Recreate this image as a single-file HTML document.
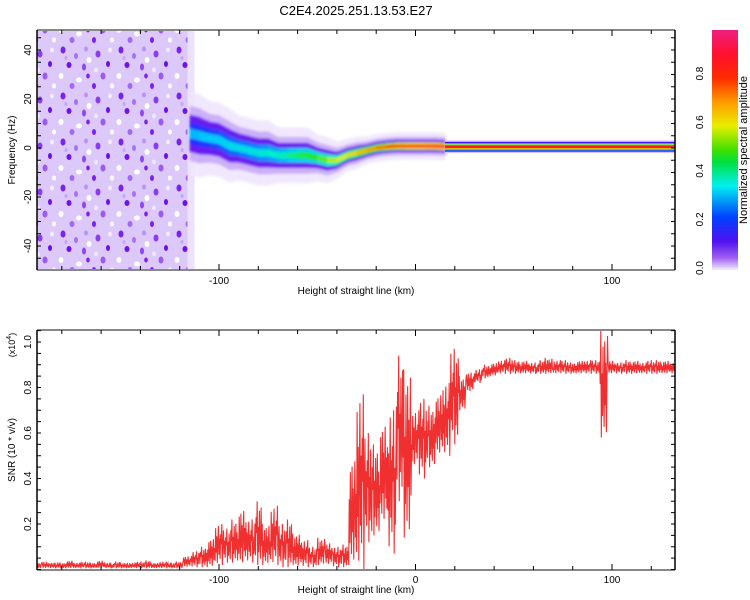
<!DOCTYPE html>
<html><head><meta charset="utf-8"><style>
body{margin:0;background:#fff;}
svg{display:block;font-family:"Liberation Sans",sans-serif;}
</style></head><body>
<svg id="c" width="750" height="600">
<defs>
<pattern id="noise" width="58" height="46" patternUnits="userSpaceOnUse">
<rect width="58" height="46" fill="#dcc8f9"/>
<ellipse cx="5" cy="4" rx="2.5" ry="3.5" fill="#7a22f0"/>
<ellipse cx="18" cy="10" rx="2" ry="3" fill="#a572f4"/>
<ellipse cx="28" cy="3" rx="2" ry="2.5" fill="#b794f6"/>
<ellipse cx="11" cy="19" rx="2.5" ry="3" fill="#6f12ee"/>
<ellipse cx="26" cy="21" rx="2" ry="3.5" fill="#8c48f2"/>
<ellipse cx="3" cy="30" rx="2.5" ry="3" fill="#fff"/>
<ellipse cx="21" cy="34" rx="3" ry="2.5" fill="#fff"/>
<ellipse cx="31" cy="14" rx="2.5" ry="3" fill="#fff"/>
<ellipse cx="8" cy="12" rx="1.5" ry="2" fill="#c4a6f8"/>
<ellipse cx="40" cy="8" rx="2.5" ry="3.5" fill="#8a3cf2"/>
<ellipse cx="50" cy="18" rx="2" ry="3" fill="#6a10ec"/>
<ellipse cx="45" cy="30" rx="2.5" ry="3.5" fill="#9a5af3"/>
<ellipse cx="36" cy="40" rx="2" ry="3" fill="#7a22f0"/>
<ellipse cx="14" cy="40" rx="2.5" ry="3" fill="#a06af4"/>
<ellipse cx="54" cy="40" rx="2" ry="2.5" fill="#fff"/>
<ellipse cx="38" cy="24" rx="2" ry="2.5" fill="#efe6fd"/>
<ellipse cx="52" cy="4" rx="2" ry="2.5" fill="#f3ecfd"/>
<ellipse cx="30" cy="30" rx="1.8" ry="2.5" fill="#7c1ff0"/>
</pattern>
<linearGradient id="cbar" x1="0" y1="0" x2="0" y2="1">
<stop offset="0" stop-color="#ee1f80"/>
<stop offset="0.1" stop-color="#ff1030"/>
<stop offset="0.2" stop-color="#ff2a00"/>
<stop offset="0.3" stop-color="#ff9a00"/>
<stop offset="0.4" stop-color="#e8ef00"/>
<stop offset="0.5" stop-color="#40e000"/>
<stop offset="0.55" stop-color="#00e040"/>
<stop offset="0.65" stop-color="#00f0f0"/>
<stop offset="0.78" stop-color="#0040ff"/>
<stop offset="0.88" stop-color="#5010f0"/>
<stop offset="0.95" stop-color="#a060f0"/>
<stop offset="1" stop-color="#f4eefc"/>
</linearGradient>
<filter id="blur1"><feGaussianBlur stdDeviation="1.2"/></filter>
</defs>
<text x="356" y="15" text-anchor="middle" font-size="13">C2E4.2025.251.13.53.E27</text>
<g id="topPanel"></g>
<g id="botPanel"></g>
<g>
<rect x="712" y="30" width="26" height="240" fill="url(#cbar)"/>
<g font-size="10" id="cbticks"></g>
<text transform="translate(747,150) rotate(-90)" text-anchor="middle" font-size="11">Normalized spectral amplitude</text>
</g>
</svg>
<script>
// ---- data ----
const ridgeKm = [-115,-110,-105,-100,-95,-90,-85,-80,-75,-70,-65,-60,-55,-50,-45,-40,-35,-30,-25,-20,-15,-10,-5,0,5,10,15];
const ridgeHz = [6,5,4,3.3,1,0,-1,-2,-2,-3,-3,-3,-3,-4,-5,-5,-3,-2,-1,0,0.5,0.8,0.8,0.8,0.8,0.8,0.6];
const ridgeWidth = [9,9,8,8,8,7,7,7,7,6,6,6,6,5,5,4,3.5,3.5,3,3,3,3,3,3,3,3,3];
const ridgeAmp = [0.28,0.3,0.3,0.32,0.33,0.35,0.35,0.37,0.38,0.4,0.42,0.45,0.48,0.5,0.55,0.6,0.62,0.65,0.7,0.72,0.78,0.82,0.85,0.85,0.88,0.88,0.9];
const lineHz = 0.5, lineStartKm = 15;
const noiseKmRange = [-192,-116];
const snrStartKm = -192, snrStepKm = 4;
const snrLo = [0.005,0.005,0.005,0.005,0.005,0.005,0.005,0.005,0.005,0.005,0.005,0.005,0.005,0.005,0.005,0.005,0.005,0.005,0.005,
 0.01,0.01,0.01,0.01,
 0.02,0.03,0.03,0.02,0.03,0.02,0.02,0.02,0.01,0.01,0.01,0.01,0.01,0.02,0.02,0.01,0.01,
 0.02,0.0,0.12,0.15,0.2,0.07,0.3,0.14,0.45,0.4,0.45,0.5,0.5,0.55,0.7,0.78,0.82,0.84,0.85,
 0.86,0.86,0.86,0.86,0.86,0.86,0.86,0.86,0.86,0.86,0.86,0.86,0.86,0.58,0.86,0.86,0.86,0.86,0.86,0.86,0.86,0.86,0.86];
const snrHi = [0.03,0.035,0.03,0.03,0.04,0.03,0.035,0.03,0.04,0.03,0.035,0.03,0.03,0.035,0.04,0.03,0.035,0.03,0.035,
 0.06,0.08,0.1,0.14,
 0.2,0.18,0.22,0.27,0.22,0.3,0.2,0.28,0.2,0.22,0.16,0.13,0.1,0.14,0.12,0.1,0.11,
 0.5,0.77,0.6,0.55,0.65,0.7,0.94,0.88,0.7,0.75,0.72,0.78,0.82,0.97,0.85,0.87,0.88,0.9,0.91,
 0.92,0.93,0.92,0.92,0.91,0.92,0.93,0.92,0.92,0.91,0.92,0.92,0.92,1.05,0.92,0.91,0.92,0.92,0.91,0.92,0.92,0.92,0.91];
const xTicksTop = [-100,100];
const xTicksBot = [-100,0,100];
const yTicksTop = [40,20,0,-20,-40];
const yTicksBot = [0.2,0.4,0.6,0.8,1.0];
const cbTicks = [0.0,0.2,0.4,0.6,0.8];

// ---- scales ----
const L=37,R=675;
const xs=km=>219+(km+100)*1.965;
const yT=hz=>148-hz*2.45;
const yB=v=>569.5-v*227.5;
const NS="http://www.w3.org/2000/svg";
function mk(tag,attrs,parent){const e=document.createElementNS(NS,tag);for(const k in attrs)e.setAttribute(k,attrs[k]);parent.appendChild(e);return e;}
function ampColor(a){
 const stops=[[0,[240,230,252]],[0.1,[150,80,240]],[0.2,[40,40,255]],[0.3,[0,200,255]],[0.4,[0,240,200]],[0.5,[40,230,0]],[0.6,[230,240,0]],[0.7,[255,160,0]],[0.8,[255,40,0]],[0.9,[255,0,50]],[1,[238,30,128]]];
 for(let i=1;i<stops.length;i++){if(a<=stops[i][0]){const t=(a-stops[i-1][0])/(stops[i][0]-stops[i-1][0]);const c=stops[i-1][1].map((v,j)=>Math.round(v+(stops[i][1][j]-v)*t));return `rgb(${c})`;}}
 return 'rgb(238,30,128)';
}
const topG=document.getElementById('topPanel'), botG=document.getElementById('botPanel');
const defs=document.querySelector('defs');
const clip=mk('clipPath',{id:'ct'},defs);
mk('rect',{x:L,y:30,width:R-L,height:240},clip);
const clip2=mk('clipPath',{id:'cb'},defs);
mk('rect',{x:L,y:330,width:R-L,height:240},clip2);

// ---- spectrogram ----
const sg=mk('g',{'clip-path':'url(#ct)'},topG);
const nzBack=mk('rect',{x:xs(noiseKmRange[0])-5,y:30,width:xs(noiseKmRange[1])-xs(noiseKmRange[0])+12,height:240,fill:'#ece2fc'},sg);


const nz=mk('rect',{x:xs(noiseKmRange[0])-5,y:30,width:xs(noiseKmRange[1])-xs(noiseKmRange[0])+5,height:240,fill:'url(#noise)'},sg);


const rg=mk('g',{filter:'url(#blur1)'},sg);
function band(frac,colorFn,op){
 for(let i=0;i<ridgeKm.length-1;i++){
  const a=(ridgeAmp[i]+ridgeAmp[i+1])/2;
  const p=[[xs(ridgeKm[i]),yT(ridgeHz[i]+ridgeWidth[i]*frac)],[xs(ridgeKm[i+1])+0.6,yT(ridgeHz[i+1]+ridgeWidth[i+1]*frac)],[xs(ridgeKm[i+1])+0.6,yT(ridgeHz[i+1]-ridgeWidth[i+1]*frac)],[xs(ridgeKm[i]),yT(ridgeHz[i]-ridgeWidth[i]*frac)]];
  const pg=mk('polygon',{points:p.map(q=>q.join(',')).join(' '),fill:colorFn(a),opacity:op},rg);
  
  
 }
}
band(1.9,()=>'#efe6fd',0.9);
band(1.25,()=>'#c9aaf7',0.9);
band(0.85,()=>'#6a1cf0',1);
band(0.5,a=>ampColor(a*0.7),1);
band(0.22,a=>ampColor(a),1);
const stripes=[[2.6,'#d8c4f8'],[2.0,'#4010f0'],[1.5,'#00c8ff'],[1.0,'#c8f000'],[0.6,'#ff1a20']];
stripes.forEach(([w,c])=>{
 const r=mk('rect',{x:xs(lineStartKm),y:yT(lineHz+w),width:R-xs(lineStartKm),height:yT(lineHz-w)-yT(lineHz+w),fill:c},sg);
 
 
});

// ---- axes helper ----
function axes(g,y0,y1,xt,yt,yf,minorStep,yMin,yMax,xlabY){
 mk('line',{x1:L,y1:y0,x2:R,y2:y0,stroke:'#888','stroke-width':2},g);
 mk('line',{x1:L,y1:y1,x2:R,y2:y1,stroke:'#888','stroke-width':2},g);
 mk('line',{x1:L,y1:y0,x2:L,y2:y1,stroke:'#000','stroke-width':1.5},g);
 mk('line',{x1:R,y1:y0,x2:R,y2:y1,stroke:'#000','stroke-width':1.5},g);
 for(let k=-180;k<=120;k+=20){const x=xs(k);const len=(k%100===0)?6:4;
  mk('line',{x1:x,y1:y1,x2:x,y2:y1-len,stroke:'#000'},g);mk('line',{x1:x,y1:y0,x2:x,y2:y0+len,stroke:'#000'},g);}
 for(let v=yMin;v<=yMax+1e-9;v+=minorStep){const y=yf(v);if(y<y0||y>y1)continue;
  mk('line',{x1:L,y1:y,x2:L+4,y2:y,stroke:'#000'},g);mk('line',{x1:R,y1:y,x2:R-4,y2:y,stroke:'#000'},g);}
 xt.forEach(k=>{const t=mk('text',{x:xs(k),y:xlabY,'text-anchor':'middle','font-size':10},g);t.textContent=k;
  
  });
 yt.forEach(v=>{const t=mk('text',{transform:`translate(31,${yf(v)}) rotate(-90)`,'text-anchor':'middle','font-size':10},g);t.textContent=(v%1!==0||v===1)?v.toFixed(1):v;
  
  });
 const xl=mk('text',{x:356,y:xlabY+10,'text-anchor':'middle','font-size':10},g);xl.textContent='Height of straight line (km)';
 
 
}
axes(topG,30,270,xTicksTop,yTicksTop,yT,5,-50,50,284);
const yl=mk('text',{transform:'translate(15,150) rotate(-90)','text-anchor':'middle','font-size':10},topG);yl.textContent='Frequency (Hz)';



// ---- SNR ----
const lg=mk('g',{'clip-path':'url(#cb)'},botG);
const jitter=[0.5,1,0,0.6,0.2,0.85,0.4,0.1,0.9,0.3,0.7,0.05,0.55,0.95,0.25,0.65,0.15,0.75];
let pts=[];
for(let i=0;i<snrLo.length;i++){
 const k=snrStartKm+i*snrStepKm, lo=snrLo[i], hi=snrHi[i];
 const n=14;
 for(let j=0;j<n;j++){
  const f=jitter[(i*5+j)%jitter.length];
  pts.push(`${xs(k-2+j*snrStepKm/n).toFixed(2)},${yB(lo+(hi-lo)*f).toFixed(2)}`);
 }
}
const pl=mk('polyline',{points:pts.join(' '),fill:'none',stroke:'#f03030','stroke-width':1.1},lg);


axes(botG,330,570,xTicksBot,yTicksBot,yB,0.05,0,1.05,583);
const sl=mk('text',{transform:'translate(15,450) rotate(-90)','text-anchor':'middle','font-size':10},botG);sl.textContent='SNR (10 * v/v)';


const sc=mk('text',{transform:'translate(15,345) rotate(-90)','text-anchor':'middle','font-size':9},botG);sc.innerHTML='(x10<tspan dy="-4" font-size="7">4</tspan><tspan dy="4">)</tspan>';



// ---- colorbar ticks ----
const cbt=document.getElementById('cbticks');
cbTicks.forEach(v=>{const y=268-v*243;const t=mk('text',{transform:`translate(703,${y}) rotate(-90)`,'text-anchor':'middle'},cbt);t.textContent=v.toFixed(1);
 
 });
</script>
</body></html>
